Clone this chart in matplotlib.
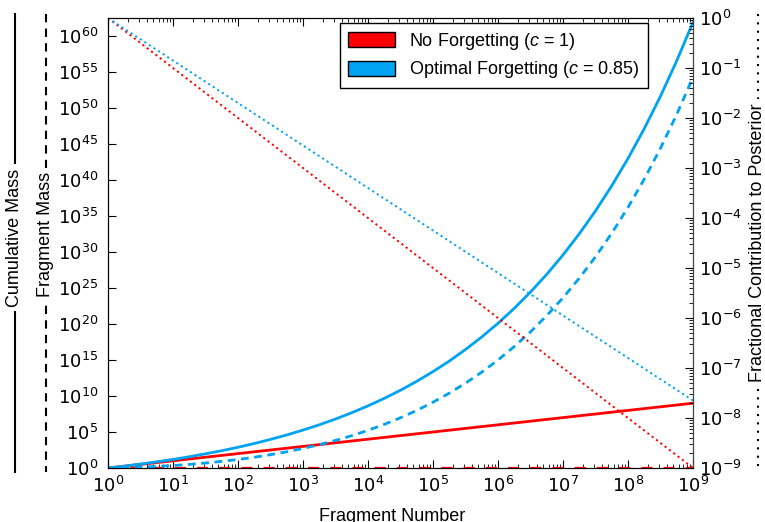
import matplotlib
matplotlib.use("Agg")
import matplotlib.pyplot as plt
import matplotlib.ticker as ticker
from matplotlib.lines import Line2D
from matplotlib.patches import Patch
import numpy as np

plt.rcParams['font.family'] = 'DejaVu Sans'
plt.rcParams['mathtext.fontset'] = 'custom'
plt.rcParams['mathtext.it'] = 'Liberation Sans:italic'
plt.rcParams['mathtext.rm'] = 'DejaVu Sans'

LAB = 'Liberation Sans'
RED = '#ff0000'
BLUE = '#00a2f2'

# values, as powers of ten
# straight lines: one point per decade
dec_exp = [0, 1, 2, 3, 4, 5, 6, 7, 8, 9]
nf_cum_exp = [0, 1, 2, 3, 4, 5, 6, 7, 8, 9]             # no forgetting, cumulative mass
nf_frag_exp = [0, 0, 0, 0, 0, 0, 0, 0, 0, 0]            # no forgetting, fragment mass
nf_frac_exp = [0, -1, -2, -3, -4, -5, -6, -7, -8, -9]   # no forgetting, fraction
of_frac_exp = [0, -0.85, -1.7, -2.55, -3.4, -4.25, -5.1, -5.95, -6.8, -7.65]

# curves (optimal forgetting): quarter-decade points
qd_exp = [0, 0.25, 0.5, 0.75, 1, 1.25, 1.5, 1.75, 2, 2.25, 2.5, 2.75, 3, 3.25, 3.5,
          3.75, 4, 4.25, 4.5, 4.75, 5, 5.25, 5.5, 5.75, 6, 6.25, 6.5, 6.75, 7, 7.25,
          7.5, 7.75, 8, 8.25, 8.5, 8.75, 9]
of_cum_exp = [0, 0.26, 0.55, 0.86, 1.19, 1.56, 1.97, 2.40, 2.88, 3.40, 3.97, 4.59,
              5.27, 6.00, 6.80, 7.68, 8.63, 9.67, 10.80, 12.04, 13.39, 14.85, 16.46,
              18.20, 20.10, 22.18, 24.44, 26.90, 29.59, 32.52, 35.71, 39.20, 42.99,
              47.13, 51.64, 56.56, 61.92]
of_frag_exp = [0, 0.05, 0.12, 0.22, 0.34, 0.50, 0.69, 0.92, 1.18, 1.49, 1.85, 2.25,
               2.72, 3.24, 3.83, 4.49, 5.23, 6.06, 6.98, 8.00, 9.14, 10.39, 11.78,
               13.31, 15.00, 16.87, 18.91, 21.17, 23.64, 26.36, 29.34, 32.61, 36.19,
               40.12, 44.42, 49.12, 54.27]

labels = ['No Forgetting ($c$ = 1)', 'Optimal Forgetting ($c$ = 0.85)']

p10 = lambda v: np.power(10.0, v)
xd = p10(dec_exp)
xq = p10(qd_exp)

fig = plt.figure(figsize=(7.65, 5.22), dpi=100)
ax = fig.add_axes([108 / 765, 54 / 522, 585 / 765, 450 / 522])
ax2 = ax.twinx()

ax.plot(xd, p10(nf_frag_exp), color=RED, lw=1.6, ls=(0, (5, 5)), zorder=2)
ax.plot(xd, p10(nf_cum_exp), color=RED, lw=2.0, zorder=3)
ax.plot(xq, p10(of_frag_exp), color=BLUE, lw=2.0, ls=(0, (2.8, 2)), zorder=3)
ax.plot(xq, p10(of_cum_exp), color=BLUE, lw=2.0, zorder=3)
ax2.plot(xd, p10(nf_frac_exp), color=RED, lw=1.4, ls=(0, (1.1, 1.7)))
ax2.plot(xd, p10(of_frac_exp), color=BLUE, lw=1.4, ls=(0, (1.1, 1.7)))

ax.set_xscale('log')
ax.set_yscale('log')
ax2.set_yscale('log')
ax.set_xlim(1, 1e9)
ax.set_ylim(1, 10 ** 62.5)
ax2.set_ylim(1e-9, 1)

ax.xaxis.set_major_locator(ticker.LogLocator(base=10, numticks=20))
ax.xaxis.set_minor_locator(ticker.LogLocator(base=10, subs=np.arange(2, 10), numticks=20))
ax.xaxis.set_minor_formatter(ticker.NullFormatter())
ax.yaxis.set_major_locator(ticker.FixedLocator([10.0 ** k for k in range(0, 61, 5)]))
ax.yaxis.set_major_formatter(ticker.LogFormatterMathtext())
ax.yaxis.set_minor_locator(ticker.NullLocator())
ax2.yaxis.set_major_locator(ticker.LogLocator(base=10, numticks=20))
ax2.yaxis.set_minor_locator(ticker.LogLocator(base=10, subs=np.arange(2, 10), numticks=20))
ax2.yaxis.set_minor_formatter(ticker.NullFormatter())

ax.tick_params(axis='x', which='both', direction='in', top=True, labelsize=13, pad=6)
ax.tick_params(axis='x', which='major', length=6)
ax.tick_params(axis='x', which='minor', length=3)
ax.tick_params(axis='y', which='major', direction='in', length=6, labelsize=13, pad=7)
ax2.tick_params(axis='y', which='major', direction='in', length=6, labelsize=13, pad=4)
ax2.tick_params(axis='y', which='minor', direction='in', length=3)
ax2.spines['right'].set_color('#444444')

ax.set_xlabel('Fragment Number', fontsize=13, family=LAB)
ax.xaxis.set_label_coords(0.486, -0.118)
ax.xaxis.label.set_va('baseline')

handles = [Patch(facecolor=RED, edgecolor='black', lw=1.0),
           Patch(facecolor=BLUE, edgecolor='black', lw=1.0)]
leg = ax2.legend(handles, labels, loc='upper right', bbox_to_anchor=(0.923, 0.989),
                 borderaxespad=0, prop={'family': LAB, 'size': 13}, fancybox=False,
                 framealpha=1, edgecolor='black', handlelength=2.6, handleheight=0.9,
                 borderpad=0.45, labelspacing=0.4, handletextpad=0.8)
leg.get_frame().set_linewidth(1.0)

# side labels with line-style keys
for xp, ls, txt, yc in [(15, '-', 'Cumulative Mass', 0.545),
                        (46, (0, (4, 3)), 'Fragment Mass', 0.55),
                        (758, (0, (1, 3)), 'Fractional Contribution to Posterior', 0.535)]:
    fx = xp / 765
    fig.add_artist(Line2D([fx, fx], [1 - 14 / 522, 1 - 472 / 522], transform=fig.transFigure,
                          color='black', lw=1.5, ls=ls, zorder=1))
    fig.text(fx, yc, txt, rotation=90, ha='center', va='center', fontsize=13, family=LAB,
             zorder=3, bbox=dict(facecolor='white', edgecolor='none', pad=3))

fig.savefig('out.png', dpi=100)
